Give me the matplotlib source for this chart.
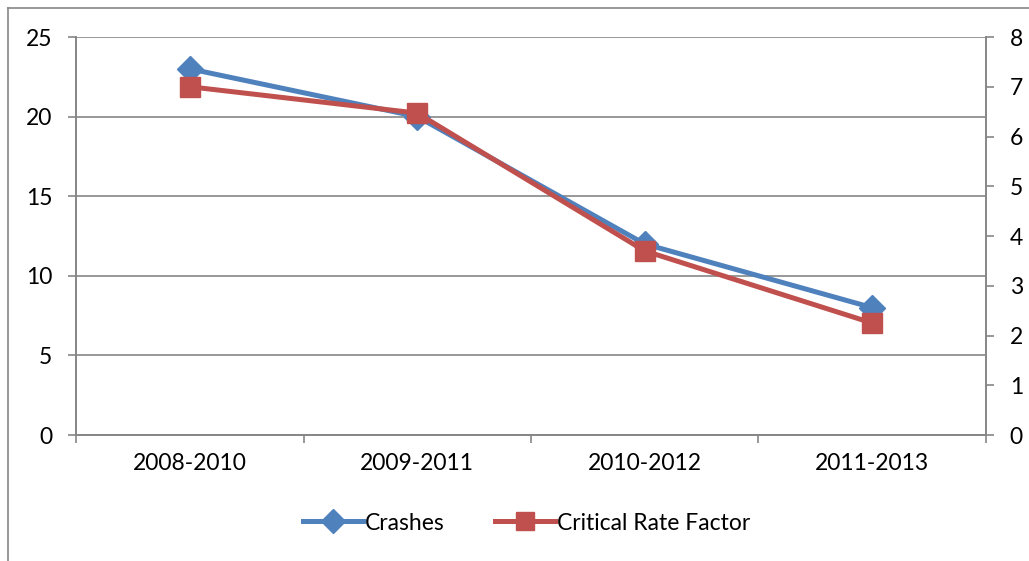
import numpy as np
import matplotlib
matplotlib.use("Agg")
import matplotlib.pyplot as plt
from matplotlib.lines import Line2D

# data
periods = ["2008-2010", "2009-2011", "2010-2012", "2011-2013"]
crashes = [23, 20, 12, 8]
crf = [7.0, 6.47, 3.7, 2.25]

plt.rcParams['font.family'] = ['Lato', 'DejaVu Sans']
grey = "#868686"
blue = "#4F81BD"
red = "#C0504D"
fs = 16.5

fig = plt.figure(figsize=(10.29, 5.61), dpi=100)
ax = fig.add_axes([76/1029, 1 - 435/561, (986 - 76)/1029, (435 - 37)/561])
ax2 = ax.twinx()

x = np.arange(len(periods))
l1, = ax.plot(x, crashes, color=blue, lw=3.6, marker="D", markersize=13,
              label="Crashes", zorder=3)
l2, = ax2.plot(x, crf, color=red, lw=3.6, marker="s", markersize=14,
               label="Critical Rate Factor", zorder=3)

ax.set_xlim(-0.5, 3.5)
ax.set_ylim(0, 25)
ax.set_yticks(range(0, 26, 5))
ax2.set_ylim(0, 8)
ax2.set_yticks(range(0, 9))

ax.set_xticks(x)
ax.set_xticklabels(periods, fontsize=fs)
ax.set_xticks(np.arange(-0.5, 3.6, 1), minor=True)
ax.tick_params(axis="x", which="major", length=0, pad=13)
ax.tick_params(axis="x", which="minor", length=6, color=grey, width=1.2)
ax.tick_params(axis="y", length=6, color=grey, width=1.2, labelsize=fs, pad=11)
ax2.tick_params(axis="y", length=6, color=grey, width=1.2, labelsize=fs, pad=11)

ax.yaxis.grid(True, color=grey, lw=1.2)
ax.set_axisbelow(True)
for a in (ax, ax2):
    a.spines["top"].set_visible(False)
    for s in ("left", "right", "bottom"):
        a.spines[s].set_color(grey)
        a.spines[s].set_linewidth(1.2)

fig.legend(handles=[l1, l2], loc="center", bbox_to_anchor=(527/1029, 1 - 523/561),
           ncol=2, frameon=False, fontsize=fs, handlelength=2.6,
           handletextpad=0.1, columnspacing=2.2, markerscale=0.95)

# outer chart border (only top and left edges fall inside the picture)
bx, by = 7.5/1029, 1 - 7.5/561
fig.add_artist(Line2D([bx, 1.0], [by, by], transform=fig.transFigure, color=grey, lw=1.2))
fig.add_artist(Line2D([bx, bx], [0.0, by], transform=fig.transFigure, color=grey, lw=1.2))

fig.savefig("out.png", dpi=100)
